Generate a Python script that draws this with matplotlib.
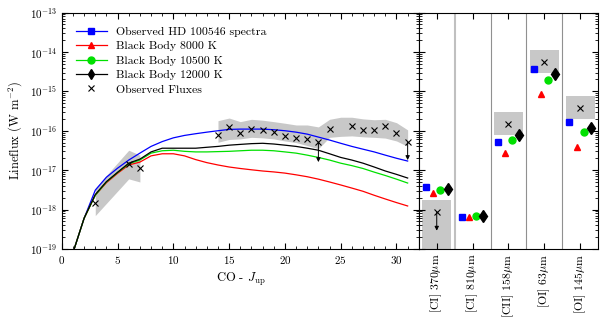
import numpy as np
import matplotlib
matplotlib.use('Agg')
import matplotlib.pyplot as plt
from matplotlib.lines import Line2D
from matplotlib.ticker import LogLocator, MultipleLocator, NullFormatter

plt.rcParams['font.family'] = 'serif'
plt.rcParams['font.serif'] = ['cmr10']
plt.rcParams['mathtext.fontset'] = 'cm'
plt.rcParams['axes.unicode_minus'] = False
plt.rcParams['axes.formatter.use_mathtext'] = True

# CO ladder models
J = np.arange(1, 32)
model_hd = [8e-20, 6e-19, 3.1e-18, 6.6e-18, 1.12e-17, 1.8e-17, 2.7e-17, 4.0e-17, 5.3e-17, 6.6e-17,
            7.6e-17, 8.4e-17, 9.2e-17, 1.0e-16, 1.08e-16, 1.1e-16, 1.1e-16, 1.1e-16, 1.06e-16, 1.0e-16,
            9.2e-17, 8.2e-17, 6.9e-17, 5.8e-17, 4.8e-17, 4.0e-17, 3.4e-17, 2.9e-17, 2.4e-17, 2.0e-17, 1.7e-17]
model_8000 = [8e-20, 6e-19, 2.3e-18, 4.8e-18, 8.3e-18, 1.35e-17, 1.6e-17, 2.3e-17, 2.6e-17, 2.6e-17,
              2.3e-17, 1.85e-17, 1.55e-17, 1.35e-17, 1.2e-17, 1.1e-17, 1.02e-17, 9.5e-18, 9.0e-18, 8.4e-18,
              7.6e-18, 6.8e-18, 5.9e-18, 5.0e-18, 4.2e-18, 3.5e-18, 2.9e-18, 2.3e-18, 1.85e-18, 1.5e-18, 1.23e-18]
model_10500 = [8e-20, 6e-19, 2.3e-18, 5.0e-18, 8.7e-18, 1.45e-17, 1.8e-17, 2.7e-17, 3.1e-17, 3.2e-17,
               3.0e-17, 2.9e-17, 2.9e-17, 2.95e-17, 3.0e-17, 3.1e-17, 3.2e-17, 3.2e-17, 3.1e-17, 2.9e-17,
               2.7e-17, 2.4e-17, 2.1e-17, 1.8e-17, 1.5e-17, 1.3e-17, 1.1e-17, 8.9e-18, 7.3e-18, 5.9e-18, 4.7e-18]
model_12000 = [8e-20, 6e-19, 2.4e-18, 5.1e-18, 8.8e-18, 1.5e-17, 1.9e-17, 2.9e-17, 3.6e-17, 3.6e-17,
               3.6e-17, 3.6e-17, 3.8e-17, 4.0e-17, 4.3e-17, 4.5e-17, 4.7e-17, 4.8e-17, 4.6e-17, 4.3e-17,
               4.0e-17, 3.6e-17, 3.2e-17, 2.6e-17, 2.1e-17, 1.8e-17, 1.5e-17, 1.2e-17, 9.5e-18, 7.8e-18, 6.3e-18]

# observed CO fluxes and error band
J_obs = [3, 6, 7, 14, 15, 16, 17, 18, 19, 20, 21, 22, 23, 24, 26, 27, 28, 29, 30, 31]
f_obs = [1.45e-18, 1.4e-17, 1.12e-17, 7.8e-17, 1.23e-16, 8.7e-17, 1.1e-16, 1.03e-16, 9.2e-17, 7.3e-17,
         6.4e-17, 6.0e-17, 5.1e-17, 1.1e-16, 1.3e-16, 1.03e-16, 1.03e-16, 1.3e-16, 8.7e-17, 5.1e-17]
J_uplim = [23, 31]
f_uplim_end = [1.6e-17, 1.8e-17]

band1_J = [3, 6, 7]
band1_lo = [7e-19, 6e-18, 5e-18]
band1_hi = [3.5e-18, 3.2e-17, 2.4e-17]
band2_J = [14, 15, 16, 17, 18, 19, 20, 21, 22, 23, 24, 25, 26, 27, 28, 29, 30, 31]
band2_lo = [5.1e-17, 6.0e-17, 6.2e-17, 6.8e-17, 6.6e-17, 6.2e-17, 5.5e-17, 5.0e-17, 4.2e-17, 3.5e-17,
            6.8e-17, 7.2e-17, 7.4e-17, 7.0e-17, 6.8e-17, 6.5e-17, 5.5e-17, 4.0e-17]
band2_hi = [1.8e-16, 2.1e-16, 1.7e-16, 1.95e-16, 1.85e-16, 1.7e-16, 1.55e-16, 1.4e-16, 1.4e-16, 1.25e-16,
            1.95e-16, 2.2e-16, 2.2e-16, 2.0e-16, 1.9e-16, 1.95e-16, 1.6e-16, 1.05e-16]

# atomic fine-structure lines
lines = [r'[CI] 370$\mu$m', r'[CI] 810$\mu$m', r'[CII] 158$\mu$m', r'[OI] 63$\mu$m', r'[OI] 145$\mu$m']
line_hd = [3.7e-18, 6.5e-19, 5.1e-17, 3.6e-15, 1.65e-16]
line_8000 = [2.6e-18, 6.3e-19, 2.7e-17, 8.4e-16, 3.8e-17]
line_10500 = [3.1e-18, 6.8e-19, 5.7e-17, 1.9e-15, 9.1e-17]
line_12000 = [3.3e-18, 7.0e-19, 7.7e-17, 2.7e-15, 1.2e-16]
line_obs_idx = [0, 2, 3, 4]
line_obs = [8.7e-19, 1.45e-16, 5.7e-15, 3.7e-16]
line_obs_uplim = [True, False, False, False]
box_lo = [1e-20, 7.7e-17, 2.9e-15, 1.95e-16]
box_hi = [1.74e-18, 2.95e-16, 1.15e-14, 7.5e-16]

styles = [('b', 's', 'Observed HD 100546 spectra'),
          ('r', '^', 'Black Body 8000 K'),
          ('#00e000', 'o', 'Black Body 10500 K'),
          ('k', 'd', 'Black Body 12000 K')]

fig = plt.figure(figsize=(6, 3.22), dpi=100)
ax = fig.add_axes([0.103, 0.227, 0.595, 0.734])
ax2 = fig.add_axes([0.698, 0.227, 0.299, 0.734], sharey=ax)

gray = '#c8c8c8'
ax.fill_between(band1_J, band1_lo, band1_hi, color=gray, lw=0)
ax.fill_between(band2_J, band2_lo, band2_hi, color=gray, lw=0)
for data, (c, m, lab) in zip([model_hd, model_8000, model_10500, model_12000], styles):
    ax.plot(J, data, color=c, lw=0.9)
ax.plot(J_obs, f_obs, 'kx', ms=5, mew=0.8)
for j, end in zip(J_uplim, f_uplim_end):
    y0 = f_obs[J_obs.index(j)]
    ax.annotate('', xy=(j, end), xytext=(j, y0),
                arrowprops=dict(arrowstyle='-|>', color='k', lw=0.7, mutation_scale=6,
                                shrinkA=0, shrinkB=0))

ax.set_yscale('log')
ax.set_ylim(1e-19, 1e-13)
ax.set_xlim(0, 32)
ax.xaxis.set_major_locator(MultipleLocator(5))
ax.xaxis.set_minor_locator(MultipleLocator(1))
ax.yaxis.set_major_locator(LogLocator(base=10, numticks=10))
ax.yaxis.set_minor_locator(LogLocator(base=10, subs=np.arange(2, 10), numticks=20))
ax.yaxis.set_minor_formatter(NullFormatter())
ax.tick_params(which='both', direction='in', top=True, right=True, labelsize=8)
ax.tick_params(which='major', length=4)
ax.tick_params(which='minor', length=2)
ax.set_xlabel(r'CO - $J_{\rm up}$', fontsize=9)
ax.set_ylabel(r'Lineflux (W m$^{-2}$)', fontsize=9)

handles = [Line2D([], [], color=c, marker=m, ms=5, lw=0.9, label=lab) for c, m, lab in styles]
handles.append(Line2D([], [], color='k', marker='x', ls='none', ms=5, mew=0.8, label='Observed Fluxes'))
ax.legend(handles=handles, loc='upper left', frameon=False, fontsize=8.5,
          handlelength=2.6, labelspacing=0.35, borderaxespad=0.8)

# right panel
x = np.arange(len(lines))
for i, (lo, hi) in enumerate(zip(box_lo, box_hi)):
    xi = line_obs_idx[i]
    ax2.fill_between([xi - 0.4, xi + 0.4], lo, hi, color=gray, lw=0)
for b in [0.5, 1.5, 2.5, 3.5]:
    ax2.axvline(b, color='#c0c0c0' if b == 0.5 else '#909090', lw=1.5 if b == 0.5 else 0.8)
offsets = [-0.3, -0.1, 0.1, 0.3]
for data, (c, m, lab), off in zip([line_hd, line_8000, line_10500, line_12000], styles, offsets):
    ax2.plot(x + off, data, ls='none', color=c, marker=m, ms=6.5 if m == 'd' else 5)
ax2.plot(line_obs_idx, line_obs, 'kx', ms=5, mew=0.8)
for xi, yv, up in zip(line_obs_idx, line_obs, line_obs_uplim):
    if up:
        ax2.annotate('', xy=(xi, yv / 3), xytext=(xi, yv),
                     arrowprops=dict(arrowstyle='-|>', color='k', lw=0.7, mutation_scale=6,
                                     shrinkA=0, shrinkB=0))
ax2.set_xlim(-0.5, 4.5)
ax2.set_xticks(x)
ax2.set_xticklabels(lines, rotation=90, fontsize=8.5)
ax2.tick_params(which='both', direction='in', top=True, right=True, left=True, labelleft=False)
ax2.tick_params(which='major', length=4)
ax2.tick_params(which='minor', length=2)

# empty offset texts sit above the axes; hide them
for a in (ax, ax2):
    a.yaxis.offsetText.set_visible(False)
    a.xaxis.offsetText.set_visible(False)

fig.savefig('out.png', dpi=100)
